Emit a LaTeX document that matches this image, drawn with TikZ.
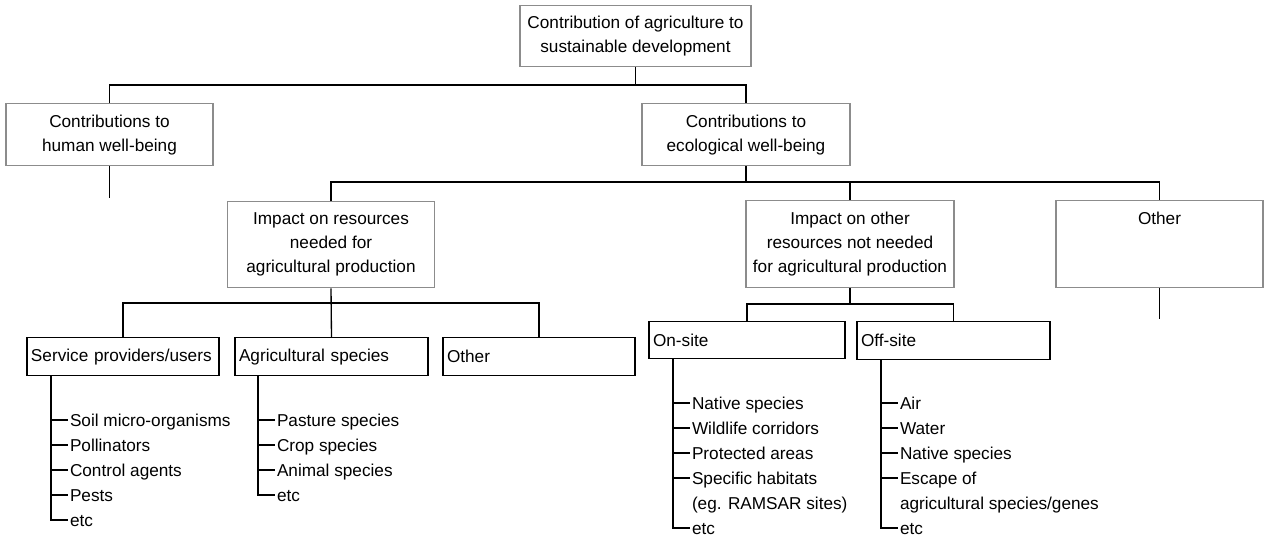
\documentclass[tikz,border=0pt]{standalone}
\usepackage{fontspec}
\setmainfont{Liberation Sans}
\begin{document}
\begin{tikzpicture}[x=0.75pt,y=-0.75pt,
  font=\fontsize{12.9pt}{18pt}\selectfont,
  line width=1pt,
  greybox/.style={draw=black!45,anchor=north,inner sep=2pt},
  blackbox/.style={draw,anchor=north,inner xsep=3pt,inner ysep=0pt,minimum height=28.5pt,align=left,text width=#1},
  item/.style={anchor=west,inner sep=1pt,text height=10pt,text depth=1pt}]
\useasboundingbox (0,0) rectangle (1265,537);

\node[greybox,align=center,minimum width=173.25pt,minimum height=45.75pt] (top) at (635.5,5) {Contribution of agriculture to\\sustainable development};
\node[greybox,align=center,minimum width=155.25pt,minimum height=46.5pt] (human) at (109.5,103) {Contributions to\\human well-being};
\node[greybox,align=center,minimum width=156pt,minimum height=46.5pt] (eco) at (746,103) {Contributions to\\ecological well-being};

\node[greybox,align=center,minimum width=155.25pt,minimum height=64.5pt] (impres) at (331,201) {Impact on resources\\needed for\\agricultural production};
\node[greybox,align=center,minimum width=156pt,minimum height=65.25pt] (impoth) at (850,200) {Impact on other\\resources not needed\\for agricultural production};
\node[greybox,minimum width=155.25pt,inner ysep=4pt,text height=14pt,text depth=43.25pt] (other) at (1159.5,200) {Other};

\node[blackbox=138pt] (svc) at (123,337) {Service providers/users};
\node[blackbox=138.75pt] (agri) at (331.5,337) {Agricultural species};
\node[blackbox=138pt] (othr) at (539,337) {Other};
\node[blackbox=141pt,minimum height=27.75pt] (onsite) at (747,321) {On-site};
\node[blackbox=138.75pt] (offsite) at (953.5,321) {Off-site};

\coordinate (bus1) at (635.5,85);
\coordinate (bus2) at (746,182);
\coordinate (bus3) at (331,303);
\coordinate (bus4) at (850,304);
\coordinate (humtail) at (109.5,198);
\coordinate (othtail) at (1159.5,319);

\draw (top.south) -- (bus1);
\draw (human.north) |- (bus1) -| (eco.north);
\draw (human.south) -- (humtail);
\draw (eco.south) -- (bus2);
\draw (impres.north) |- (bus2) -| (other.north);
\draw (impoth.north) -- (impoth.north |- bus2);
\draw (other.south) -- (othtail);
\draw (impres.south) -- (agri.north);
\draw (svc.north) |- (bus3) -| (othr.north);
\draw (impoth.south) -- (bus4);
\draw (onsite.north) |- (bus4) -| (offsite.north);

\node[item] (s1) at (68,420) {Soil micro-organisms};
\node[item] (s2) at (68,445) {Pollinators};
\node[item] (s3) at (68,470) {Control agents};
\node[item] (s4) at (68,495) {Pests};
\node[item] (s5) at (68,520) {etc};
\coordinate (svcspine) at (51,375);
\draw (svcspine) |- (s5.west);
\foreach \i in {1,...,4} \draw (svcspine |- s\i.west) -- (s\i.west);

\node[item] (a1) at (275,420) {Pasture species};
\node[item] (a2) at (275,445) {Crop species};
\node[item] (a3) at (275,470) {Animal species};
\node[item] (a4) at (275,495) {etc};
\coordinate (agrispine) at (258,375);
\draw (agrispine) |- (a4.west);
\foreach \i in {1,...,3} \draw (agrispine |- a\i.west) -- (a\i.west);

\node[item] (o1) at (690,403) {Native species};
\node[item] (o2) at (690,428) {Wildlife corridors};
\node[item] (o3) at (690,453) {Protected areas};
\node[item] (o4) at (690,478) {Specific habitats};
\node[item] (o5) at (690,503) {(eg. RAMSAR sites)};
\node[item] (o6) at (690,528) {etc};
\coordinate (onspine) at (673,358);
\draw (onspine) |- (o6.west);
\foreach \i in {1,...,4} \draw (onspine |- o\i.west) -- (o\i.west);

\node[item] (f1) at (898,403) {Air};
\node[item] (f2) at (898,428) {Water};
\node[item] (f3) at (898,453) {Native species};
\node[item] (f4) at (898,478) {Escape of};
\node[item] (f5) at (898,503) {agricultural species/genes};
\node[item] (f6) at (898,528) {etc};
\coordinate (offspine) at (881,359);
\draw (offspine) |- (f6.west);
\foreach \i in {1,...,4} \draw (offspine |- f\i.west) -- (f\i.west);
\end{tikzpicture}
\end{document}
